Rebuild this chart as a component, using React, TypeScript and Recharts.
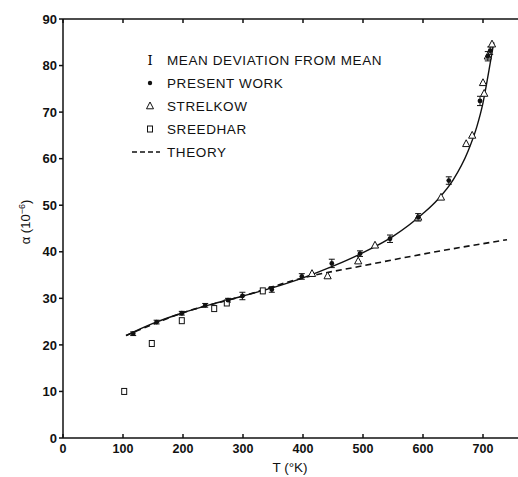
import {
  ComposedChart,
  ErrorBar,
  Line,
  Scatter,
  XAxis,
  YAxis,
} from "recharts";

// thermal expansion coefficient, alpha (10^-6) against T (K)
const presentT = [117, 156, 198, 237, 275, 299, 348, 398, 448, 495, 545, 592, 643, 695, 708, 712];
const presentA = [22.4, 24.9, 26.8, 28.5, 29.6, 30.5, 31.9, 34.7, 37.5, 39.6, 42.8, 47.4, 55.3, 72.4, 82.0, 83.2];
const presentErr = [0.4, 0.4, 0.4, 0.4, 0.4, 0.8, 0.6, 0.6, 0.9, 0.6, 0.8, 0.8, 0.8, 1.0, 1.0, 0.8];

const strelkowT = [415, 441, 492, 520, 592, 630, 672, 682, 700, 702, 708, 715];
const strelkowA = [35.3, 34.8, 38.0, 41.4, 47.4, 51.7, 63.2, 65.0, 76.3, 74.0, 82.0, 84.6];

const sreedharT = [102, 148, 198, 252, 273, 333];
const sreedharA = [10.0, 20.3, 25.2, 27.8, 29.0, 31.6];

const curveT = [105, 150, 200, 250, 300, 350, 400, 450, 500, 550, 600, 625, 650, 675, 690, 700, 710, 718];
const curveA = [22.0, 24.6, 26.9, 28.8, 30.5, 32.3, 34.4, 36.9, 39.8, 43.3, 48.2, 51.3, 55.4, 61.6, 67.0, 72.0, 79.0, 85.0];

const theoryT = [105, 200, 300, 400, 500, 600, 740];
const theoryA = [22.0, 26.9, 30.5, 34.4, 37.0, 39.5, 42.6];

const xTicks = [0, 100, 200, 300, 400, 500, 600, 700];
const yTicks = [0, 10, 20, 30, 40, 50, 60, 70, 80, 90];

const legendItems = ["MEAN DEVIATION FROM MEAN", "PRESENT WORK", "STRELKOW", "SREEDHAR", "THEORY"];

const present = presentT.map((T, i) => ({ T, a: presentA[i], err: presentErr[i] }));
const strelkow = strelkowT.map((T, i) => ({ T, a: strelkowA[i] }));
const sreedhar = sreedharT.map((T, i) => ({ T, a: sreedharA[i] }));
const curve = curveT.map((T, i) => ({ T, a: curveA[i] }));
const theory = theoryT.map((T, i) => ({ T, a: theoryA[i] }));

const font = "'Liberation Sans', Arial, sans-serif";

const Dot = (p: any) => <circle cx={p.cx} cy={p.cy} r={2.4} fill="#111" />;
const Tri = (p: any) => (
  <path
    d={`M${p.cx},${p.cy - 4} L${p.cx + 3.6},${p.cy + 2.8} L${p.cx - 3.6},${p.cy + 2.8} Z`}
    fill="#fff"
    stroke="#111"
    strokeWidth={1}
  />
);
const Sq = (p: any) => (
  <rect x={p.cx - 2.5} y={p.cy - 3} width={5} height={6} fill="#fff" stroke="#111" strokeWidth={1} />
);

// drawn straight into the chart svg so it takes no layout space
function LegendBox() {
  const marks = [
    <text x={4} y={5} fontSize={13} textAnchor="middle" fontFamily="'DejaVu Serif', serif">I</text>,
    <circle cx={4} cy={0} r={2.2} fill="#111" />,
    <path d="M4,-4 L7.5,2.8 L0.5,2.8 Z" fill="#fff" stroke="#111" />,
    <rect x={1.5} y={-3} width={5} height={6} fill="#fff" stroke="#111" />,
    <line x1={-14} y1={0} x2={14} y2={0} stroke="#111" strokeWidth={1.5} strokeDasharray="5 3" />,
  ];
  return (
    <g transform="translate(132, 50)">
      {legendItems.map((t, i) => (
        <g key={t} transform={`translate(0, ${10 + i * 23})`}>
          <g transform="translate(14,0)">{marks[i]}</g>
          <text x={35} y={5} fontSize={13.5} fill="#111" fontFamily={font} letterSpacing={0.6}>
            {t}
          </text>
        </g>
      ))}
    </g>
  );
}

export default function App() {
  return (
    <div style={{ position: "absolute", left: 0, top: 0, width: 518, height: 477, overflow: "hidden", background: "#fff" }}>
      <ComposedChart width={530} height={477} margin={{ top: 18, right: 11, left: 0, bottom: 14 }}>
        <XAxis
          xAxisId="top"
          orientation="top"
          type="number"
          dataKey="T"
          domain={[0, 760]}
          ticks={xTicks}
          tickFormatter={() => ""}
          tickSize={-4}
          stroke="#111"
          strokeWidth={1.5}
          height={1}
          allowDataOverflow
        />
        <XAxis
          type="number"
          dataKey="T"
          domain={[0, 760]}
          ticks={xTicks}
          tickSize={-4}
          height={25}
          stroke="#111"
          strokeWidth={1.5}
          tick={{ fontSize: 12.5, fontWeight: "bold", fill: "#111", fontFamily: font, dy: 8 }}
          allowDataOverflow
        />
        <YAxis
          type="number"
          dataKey="a"
          domain={[0, 90]}
          ticks={yTicks}
          width={63}
          tickSize={4}
          stroke="#111"
          strokeWidth={1.5}
          tick={{ fontSize: 13, fontWeight: "bold", fill: "#111", fontFamily: font }}
          allowDataOverflow
        />
        <Line data={theory} dataKey="a" type="monotone" stroke="#111" strokeWidth={1.6} strokeDasharray="6 4" dot={false} isAnimationActive={false} legendType="none" />
        <Line data={curve} dataKey="a" type="monotone" stroke="#111" strokeWidth={1.4} dot={false} isAnimationActive={false} legendType="none" />
        <Scatter data={sreedhar} dataKey="a" shape={Sq} isAnimationActive={false} legendType="none" />
        <Scatter data={strelkow} dataKey="a" shape={Tri} isAnimationActive={false} legendType="none" />
        <Scatter data={present} dataKey="a" shape={Dot} isAnimationActive={false} legendType="none">
          <ErrorBar dataKey="err" direction="y" width={3} stroke="#111" strokeWidth={1} isAnimationActive={false} />
        </Scatter>
        <LegendBox />
        <text x={30} y={222} transform="rotate(-90 30 222)" textAnchor="middle" fontSize={13} fill="#111" fontFamily={font}>
          α (10<tspan dy={-5} fontSize={9}>−6</tspan><tspan dy={5}>)</tspan>
        </text>
        <text x={290} y={472} textAnchor="middle" fontSize={13.5} fill="#111" fontFamily={font}>
          T (°K)
        </text>
      </ComposedChart>
    </div>
  );
}
